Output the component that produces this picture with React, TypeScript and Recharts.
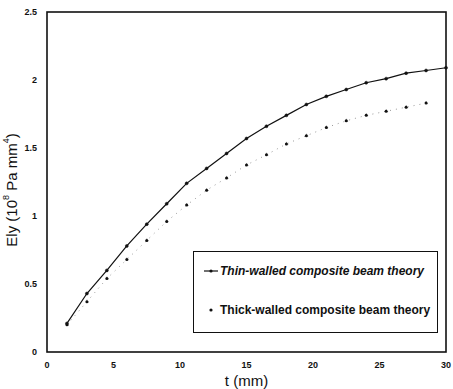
import React from 'react';
import {
  LineChart,
  Line,
  XAxis,
  YAxis,
  Label,
} from 'recharts';

const tValues = [1.5, 3, 4.5, 6, 7.5, 9, 10.5, 12, 13.5, 15, 16.5, 18, 19.5, 21, 22.5, 24, 25.5, 27, 28.5, 30];
const thinWalled = [0.21, 0.43, 0.6, 0.78, 0.94, 1.09, 1.24, 1.35, 1.46, 1.57, 1.66, 1.74, 1.82, 1.88, 1.93, 1.98, 2.01, 2.05, 2.07, 2.09];
const thickWalled = [0.2, 0.37, 0.54, 0.68, 0.82, 0.96, 1.08, 1.19, 1.28, 1.375, 1.45, 1.53, 1.59, 1.65, 1.7, 1.74, 1.77, 1.8, 1.83, null];
const xTicks = [0, 5, 10, 15, 20, 25, 30];
const yTicks = [0, 0.5, 1, 1.5, 2, 2.5];

const data = tValues.map((t, i) => ({ t, thin: thinWalled[i], thick: thickWalled[i] }));

const FONT = '"Liberation Sans", Arial, sans-serif';

// plot box: margins below must agree with this
const PLOT = { left: 47, top: 12, right: 7, bottom: 37 };

const YLabel = () => (
  <text
    x={13}
    y={190}
    transform="rotate(-90 13 190)"
    textAnchor="middle"
    dominantBaseline="middle"
    fontFamily={FONT}
    fontSize={15}
    fill="#111"
  >
    Ely  (10<tspan fontSize={9} dy={-6}>8</tspan>
    <tspan dy={6}> Pa mm</tspan>
    <tspan fontSize={9} dy={-6}>4</tspan>
    <tspan dy={6}>)</tspan>
  </text>
);

const LegendBox = () => (
  <div
    style={{
      position: 'absolute',
      left: 193,
      top: 251,
      border: '1px solid #111',
      width: 245,
      height: 82,
      boxSizing: 'border-box',
      fontFamily: FONT,
      fontWeight: 'bold',
      fontSize: 12,
      color: '#111',
      background: '#fff',
    }}
  >
    <div style={{ display: 'flex', alignItems: 'center', marginTop: 12, marginLeft: 10 }}>
      <svg width={14} height={6}>
        <line x1={0} y1={3} x2={14} y2={3} stroke="#111" strokeWidth={1.2} />
        <circle cx={7} cy={3} r={1.6} fill="#111" />
      </svg>
      <span style={{ marginLeft: 2, fontStyle: 'italic' }}>Thin-walled composite beam theory</span>
    </div>
    <div style={{ display: 'flex', alignItems: 'center', marginTop: 25, marginLeft: 10 }}>
      <svg width={14} height={6}>
        <circle cx={7} cy={3} r={1.6} fill="#111" />
      </svg>
      <span style={{ marginLeft: 2 }}>Thick-walled composite beam theory</span>
    </div>
  </div>
);

export default function App() {
  const plotW = 453 - PLOT.left - PLOT.right;
  const plotH = 389 - PLOT.top - PLOT.bottom;
  return (
    <div style={{ position: 'absolute', left: 0, top: 0, width: 453, height: 389, background: '#fff' }}>
      <LineChart width={453} height={389} data={data} margin={{ top: PLOT.top, right: PLOT.right, left: 0, bottom: 0 }}>
        <XAxis
          dataKey="t"
          type="number"
          domain={[0, 30]}
          ticks={xTicks}
          height={PLOT.bottom}
          axisLine={false}
          tickLine={false}
          tick={{ fontSize: 9, fontFamily: FONT, fontWeight: 'bold', fill: '#111' }}
          tickMargin={4}
        >
          <Label
            value="t (mm)"
            position="insideBottom"
            offset={3}
            style={{ fontSize: 15, fontFamily: FONT, fill: '#111' }}
          />
        </XAxis>
        <YAxis
          type="number"
          domain={[0, 2.5]}
          ticks={yTicks}
          width={PLOT.left}
          axisLine={false}
          tickLine={false}
          tick={{ fontSize: 9, fontFamily: FONT, fontWeight: 'bold', fill: '#111' }}
          tickMargin={4}
          label={{ content: () => <YLabel /> }}
        />
        <Line
          dataKey="thick"
          stroke="#999"
          strokeWidth={1}
          strokeDasharray="1 5"
          dot={{ r: 1.5, fill: '#111', stroke: '#111', strokeWidth: 0.5 }}
          isAnimationActive={false}
          connectNulls={false}
        />
        <Line
          dataKey="thin"
          stroke="#111"
          strokeWidth={1.2}
          dot={{ r: 1.5, fill: '#111', stroke: '#111', strokeWidth: 0.5 }}
          isAnimationActive={false}
        />
      </LineChart>
      {/* frame around the plot */}
      <svg
        width={453}
        height={389}
        style={{ position: 'absolute', left: 0, top: 0, pointerEvents: 'none' }}
      >
        <rect
          x={PLOT.left}
          y={PLOT.top}
          width={plotW}
          height={plotH}
          fill="none"
          stroke="#111"
          strokeWidth={1.6}
        />
      </svg>
      <LegendBox />
    </div>
  );
}
